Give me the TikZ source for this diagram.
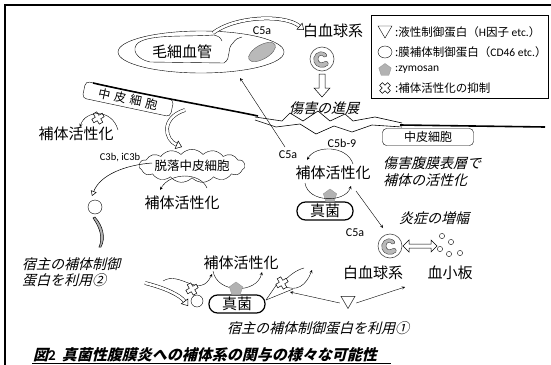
\documentclass[tikz,border=0pt]{standalone}
\usepackage{fontspec}
\newfontfamily\jp{Noto Sans CJK JP}
\newfontfamily\jpit{Noto Sans CJK JP}[FakeSlant=0.25]
\newfontfamily\lat{Carlito}
\usetikzlibrary{positioning, calc, arrows.meta, shapes.geometric, shapes.symbols}
\tikzset{
	arrow/.style={thin, ->, >=stealth},
	hollow/.style={double, double distance=2.6pt, line width=0.5pt, -{Triangle[open, width=9pt, length=6pt]}},
	lbl/.style={font=\jp\fontsize{15}{17}\selectfont, inner sep=0pt},
	itl/.style={font=\jpit\fontsize{14}{16}\selectfont, inner sep=0pt},
	cnm/.style={font=\lat\fontsize{12}{14}\selectfont, inner sep=0pt},
	leg/.style={font=\jp\fontsize{11.5}{13}\selectfont, inner sep=0pt, anchor=west},
	cellbox/.style={draw, rounded corners=4pt, font=\jp\fontsize{12}{14}\selectfont, minimum width=90pt, minimum height=17pt, inner sep=0pt},
	fungus/.style={draw, very thick, rounded corners=8.5pt, font=\jp\fontsize{15}{17}\selectfont, minimum width=56pt, minimum height=18pt, inner sep=0pt},
	zym/.style={regular polygon, regular polygon sides=5, fill=gray!60, draw=gray!80, minimum size=14pt, inner sep=0pt},
	pic blk/.style={fill=white, draw, line width=0.5pt},
	blockx/.pic={
		\filldraw[pic blk] (2,2) -- (2,6) -- (-2,6) -- (-2,2) -- (-6,2) -- (-6,-2) -- (-2,-2) -- (-2,-6)
			-- (2,-6) -- (2,-2) -- (6,-2) -- (6,2) -- cycle;
	},
	wbc/.pic={
		\draw[gray!60!black, line width=0.6pt] (0,0) circle (12);
		\filldraw[fill=gray!55, draw=gray!50!black, line width=0.4pt]
			(3,-6) .. controls (-4,-10) and (-10,-3) .. (-8,3) .. controls (-6,9) and (2,10) .. (6,6)
			.. controls (7,3) and (4,1) .. (2,3) .. controls (-1,5) and (-4,3) .. (-4,0)
			.. controls (-4,-4) and (0,-5) .. (2,-2) .. controls (5,-2) and (6,-4) .. (3,-6) -- cycle;
	},
}
\begin{document}
\begin{tikzpicture}[x=1pt, y=-1pt]
\useasboundingbox (0,0) rectangle (551,364);
% frame
\draw[line width=2.5pt] (5,372) -- (5,5) -- (560,5);

% capillary with a red cell
\draw (201,52) ellipse (83 and 21);
\draw (214,35) .. controls (185,37) and (150,34) .. (138,43) .. controls (131,49) and (136,59) .. (150,62)
	-- (224,63) .. controls (232,58) and (226,49) .. (233,43) .. controls (236,39) .. (242,37);
\draw (214,35) .. controls (220,37) .. (222,41);
\filldraw[fill=gray!55, draw=gray!70!black, rotate around={30:(262,52)}] (262,52) ellipse (15 and 7);
\node[lbl] (cap) at (182,52) {毛細血管};

% leukocytes reach the site
\node[cnm] (c5top) at (262,31) {C5a};
\node[lbl, anchor=west] (wbc1) at (303,31) {白血球系};
\draw[hollow] (213,33) .. controls (235,16) and (285,14) .. (304,30);
\pic at (322,59) {wbc};
\filldraw[fill=white, line width=0.5pt] (319,74) -- (325,74) -- (325,88) -- (330,88) -- (322,97) -- (314,88) -- (319,88) -- cycle;
\node[itl] (prog) at (324,108) {傷害の進展};

% legend
\draw[line width=0.6pt] (371,15) rectangle (548,98);
\draw (378,26) -- (392,26) -- (385,38) -- cycle;
\node[leg] (l1) at (395,32) {:液性制御蛋白（{\lat H}因子 {\lat etc.}）};
\draw (385,52) ellipse (7 and 6);
\node[leg] (l2) at (395,52) {:膜補体制御蛋白（{\lat CD46 etc.}）};
\node[zym, minimum size=13pt] (z0) at (385,70) {};
\node[leg] (l3) at (395,70) {{\lat :zymosan}};
\pic[rotate=45, scale=0.95] at (385,88) {blockx};
\node[leg] (l4) at (395,88) {:補体活性化の抑制};

% peritoneal surface and the crack
\draw[line width=1.6pt] (93,83) .. controls (150,96) and (220,108) .. (258,116);
\draw[line width=0.6pt] (255,117) -- (282,121) -- (290,113) -- (303,121) -- (318,111) -- (330,121) -- (345,114)
	-- (353,121) -- (375,117) -- (402,123);
\draw[line width=0.6pt] (255,120) -- (276,127) -- (300,124) -- (316,134) -- (334,126) -- (352,132) -- (372,125) -- (402,127);
\draw[line width=1.6pt] (400,125) -- (545,127);

% left: mesothelium
\node[cellbox, rotate=-12] (meso1) at (128,99) {中\hspace{4pt}皮\hspace{4pt}細\hspace{4pt}胞};
\pic[rotate=30] at (98,118) {blockx};
\node[lbl] (act1) at (76,134) {補体活性化};
\draw[arrow] (118,130) .. controls (112,108) and (85,110) .. (80,127);
\draw[hollow] (185,110) .. controls (160,118) and (165,140) .. (182,147);

% shed mesothelial cells
\node[cloud, draw, cloud puffs=15, cloud puff arc=100, aspect=4.5, inner sep=0pt, font=\jp\fontsize{12.5}{14}\selectfont] (shed) at (192,166) {脱落中皮細胞};
\node[cnm, font=\lat\fontsize{10.5}{12}\selectfont] (c3b) at (120,158) {C3b, iC3b};
\node[lbl] (act2) at (182,203) {補体活性化};
\draw[arrow] (207,188) .. controls (200,172) and (170,172) .. (160,190);
\draw (95,207) circle (7);
\draw[line width=0.5pt, -{Triangle[open, width=6pt, length=5pt]}] (152,163) .. controls (125,165) and (100,175) .. (92,196);
\draw[line width=0.5pt, fill=gray!60] (93,218) .. controls (100,228) and (103,238) .. (99,247) -- (101,247) .. controls (106,238) and (103,226) .. (95,217) -- cycle;

% host regulator on the fungus (2)
\node[itl, anchor=west] (host2a) at (22,264) {宿主の補体制御};
\node[itl, anchor=west] (host2b) at (22,280) {蛋白を利用②};
\draw[hollow] (145,283) .. controls (165,288) and (180,295) .. (188,306);

% bottom fungus
\node[lbl] (act3) at (241,263) {補体活性化};
\node[fungus] (fun2) at (237,304) {真菌};
\draw[arrow] (213,271) .. controls (217,294) and (257,294) .. (262,272);
\node[zym] (z2) at (236,289) {};
\draw (197,301) circle (6);
\draw[arrow] (163,281) .. controls (180,270) and (200,300) .. (212,274);
\pic[rotate=30] at (192,289) {blockx};
\draw (266,300) -- (277,284);
\draw (266,300) -- (293,289);
\draw (304,268) .. controls (296,270) and (289,276) .. (284,281);
\draw[arrow] (284,286) .. controls (296,292) and (306,286) .. (312,270);
\pic[rotate=30] at (282,283) {blockx};

% host regulator (1)
\node[font=\jp\fontsize{16}{16}\selectfont, inner sep=0pt] (fh) at (348,303) {▽};
\draw[arrow] (fh.west) -- (290,292);
\draw[arrow] (fh.east) -- (405,287);
\node[itl] (host1) at (318,328) {宿主の補体制御蛋白を利用①};

% top middle: fungus on the surface
\node[cnm] (c5b) at (342,143) {C5b-9};
\node[cnm] (c5mid) at (288,155) {C5a};
\node[lbl] (act4) at (333,173) {補体活性化};
\node[fungus] (fun1) at (325,211) {真菌};
\node[zym] (z1) at (330,196) {};
\draw[arrow] (353,164) .. controls (347,145) and (315,145) .. (307,160);
\draw[arrow] (305,183) .. controls (308,203) and (345,203) .. (351,186);
\draw[arrow] (285,147) -- (240,78);
\draw[arrow] (356,191) -- (383,228);

% right side
\node[cellbox, minimum width=91pt] (meso2) at (428,137) {中皮細胞};
\node[itl, anchor=west] (surf1) at (383,163) {傷害腹膜表層で};
\node[itl, anchor=west] (surf2) at (383,180) {補体の活性化};
\node[itl] (infl) at (434,218) {炎症の増幅};
\node[cnm] (c5low) at (355,233) {C5a};
\pic at (390,246) {wbc};
\filldraw[fill=white, line width=0.5pt] (403,246) -- (409,240) -- (409,244) -- (431,244) -- (431,240) -- (437,246)
	-- (431,252) -- (431,248) -- (409,248) -- (409,252) -- cycle;
\foreach \px/\py in {442/236, 451/242, 440/249, 449/254, 460/253}
	\draw (\px,\py) circle (2.6);
\node[lbl] (wbc2) at (373,273) {白血球系};
\node[lbl] (plt) at (450,273) {血小板};

% caption
\node[font=\jpit\fontsize{15}{17}\selectfont\bfseries, inner sep=0pt, anchor=west] (cap2) at (33,355) {図{\lat 2}\hspace{6pt}真菌性腹膜炎への補体系の関与の様々な可能性};
\draw[line width=0.7pt] (32,363) -- (391,363);
\end{tikzpicture}
\end{document}
